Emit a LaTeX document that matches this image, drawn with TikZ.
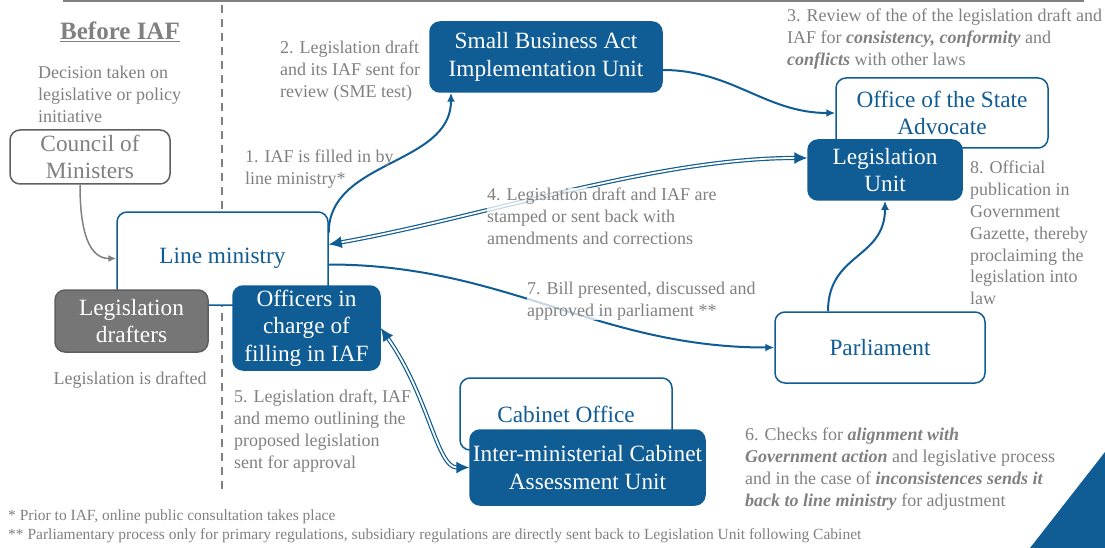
\documentclass[tikz,border=0pt]{standalone}
\usepackage{fontspec}
\setmainfont{Liberation Serif}
\usetikzlibrary{arrows.meta}
\definecolor{oblue}{RGB}{16,92,148}
\definecolor{ogrey}{RGB}{128,128,128}
\definecolor{dgrey}{RGB}{118,118,118}
\definecolor{lgrey}{RGB}{95,95,95}
\newcommand{\boxfont}{\fontsize{23.3}{27.5}\selectfont}
\newcommand{\notefont}{\fontsize{18}{21.8}\selectfont}
\newcommand{\footfont}{\fontsize{15.5}{19}\selectfont}
\begin{document}
\begin{tikzpicture}[x=1pt,y=-1pt]
			\tikzstyle{bluebox}=[rectangle,rounded corners=10pt,draw=oblue,fill=oblue,text=white,align=center,font=\boxfont,line width=1.5pt,inner sep=0pt]
			\tikzstyle{whitebox}=[bluebox,fill=white,text=oblue]
			\tikzstyle{greybox}=[bluebox,draw=lgrey,fill=white,text=ogrey]
			\tikzstyle{darkbox}=[bluebox,draw=lgrey,fill=dgrey,text=white]
			\tikzstyle{notetext}=[anchor=north west,align=left,inner sep=0pt,text=ogrey,font=\notefont]
			\tikzstyle{fadebg}=[fill=white,fill opacity=0.75,text opacity=1]
			\tikzstyle{flow}=[draw=oblue,line width=2pt,-{Latex[length=9pt,width=8pt]}]
			\tikzstyle{greyflow}=[draw=ogrey,line width=1.5pt,-{Latex[length=8pt,width=7pt]}]
			\tikzstyle{twoway}=[draw=oblue,line width=1.2pt,double=white,double distance=1.8pt,{Latex[length=13pt,width=12pt]}-{Latex[length=13pt,width=12pt]}]
			\useasboundingbox (0,0) rectangle (1105,548);
			\draw[ogrey,line width=2pt] (63,1) -- (1084,1);
			\draw[ogrey,line width=2.5pt,dash pattern=on 8pt off 6pt] (222,5) -- (222,490);
			\fill[oblue] (1105,452) -- (1105,548) -- (1030,548) -- cycle;
			\begin{scope}
			\node[greybox,minimum width=160pt,minimum height=54pt] (council) at (90,157) {Council of\\Ministers};
			\node[whitebox,minimum width=211pt,minimum height=93pt] (lm) at (222.5,258.5) {Line ministry};
			\node[darkbox,minimum width=153pt,minimum height=62pt] (drafters) at (131.5,321) {Legislation\\drafters};
			\node[bluebox,minimum width=147pt,minimum height=84pt] (officers) at (306.5,328) {Officers in\\charge of\\filling in IAF};
			\node[bluebox,minimum width=232pt,minimum height=70pt] (sba) at (546,57) {Small Business Act\\Implementation Unit};
			\node[whitebox,minimum width=212pt,minimum height=70pt] (osa) at (942,113) {Office of the State\\Advocate};
			\node[bluebox,minimum width=154pt,minimum height=60pt] (lu) at (885,170) {Legislation\\Unit};
			\node[whitebox,minimum width=210pt,minimum height=71pt] (parl) at (880,347.5) {Parliament};
			\node[whitebox,minimum width=212pt,minimum height=72pt] (cab) at (566,414) {Cabinet Office};
			\node[bluebox,minimum width=235pt,minimum height=75pt] (imc) at (587.5,467.5) {Inter-ministerial Cabinet\\Assessment Unit};
			\end{scope}

			\path
			([xshift=-10pt]council.south) edge[greyflow,out=-90,in=180] (lm.west)
			([yshift=26pt]lm.east) edge[flow,out=90,in=-90] ([xshift=-95pt]sba.south)
			([yshift=-13pt]sba.east) edge[flow,out=0,in=180] (osa.west)
			([yshift=14pt]lm.east) edge[twoway,out=10,in=180,looseness=0.8] ([yshift=12pt]lu.west)
			([yshift=-6pt]lm.east) edge[flow,out=0,in=180] (parl.west)
			([xshift=-52pt]parl.north) edge[flow,out=90,in=-90,looseness=1.2] (lu.south)
			(officers.east) edge[twoway,out=-55,in=180,out looseness=1.3,in looseness=0.5] (imc.west)
			;

			\begin{scope}
			\node[font=\fontsize{25}{30}\selectfont\bfseries,text=ogrey] (before) at (120,32) {\underline{Before IAF}};
			\node[notetext] (decision) at (38,66) {Decision taken on\\legislative or policy\\initiative};
			\node[notetext,anchor=center] (drafted) at (130,380) {Legislation is drafted};
			\node[notetext] (step1) at (245,150) {1. IAF is filled in by\\line ministry*};
			\node[notetext] (step2) at (280,41) {2. Legislation draft\\and its IAF sent for\\review (SME test)};
			\node[notetext] (step3) at (787,9) {3. Review of the of the legislation draft and\\IAF for \textbf{\textit{consistency, conformity}} and\\\textbf{\textit{conflicts}} with other laws};
			\node[notetext,fadebg] (step4) at (487,188) {4. Legislation draft and IAF are\\stamped or sent back with\\amendments and corrections};
			\node[notetext] (step5) at (234,390) {5. Legislation draft, IAF\\and memo outlining the\\proposed legislation\\sent for approval};
			\node[notetext] (step6) at (745,428) {6. Checks for \textbf{\textit{alignment with}}\\\textbf{\textit{Government action}} and legislative process\\and in the case of \textbf{\textit{inconsistences sends it}}\\\textbf{\textit{back to line ministry}} for adjustment};
			\node[notetext,fadebg] (step7) at (527,282) {7. Bill presented, discussed and\\approved in parliament **};
			\node[notetext] (step8) at (970,161) {8. Official\\publication in\\Government\\Gazette, thereby\\proclaiming the\\legislation into\\law};
			\node[notetext,anchor=west,font=\footfont] (foot1) at (8,517) {* Prior to IAF, online public consultation takes place};
			\node[notetext,anchor=west,font=\footfont] (foot2) at (8,536) {** Parliamentary process only for primary regulations, subsidiary regulations are directly sent back to Legislation Unit following Cabinet};
			\end{scope}
\end{tikzpicture}
\end{document}
